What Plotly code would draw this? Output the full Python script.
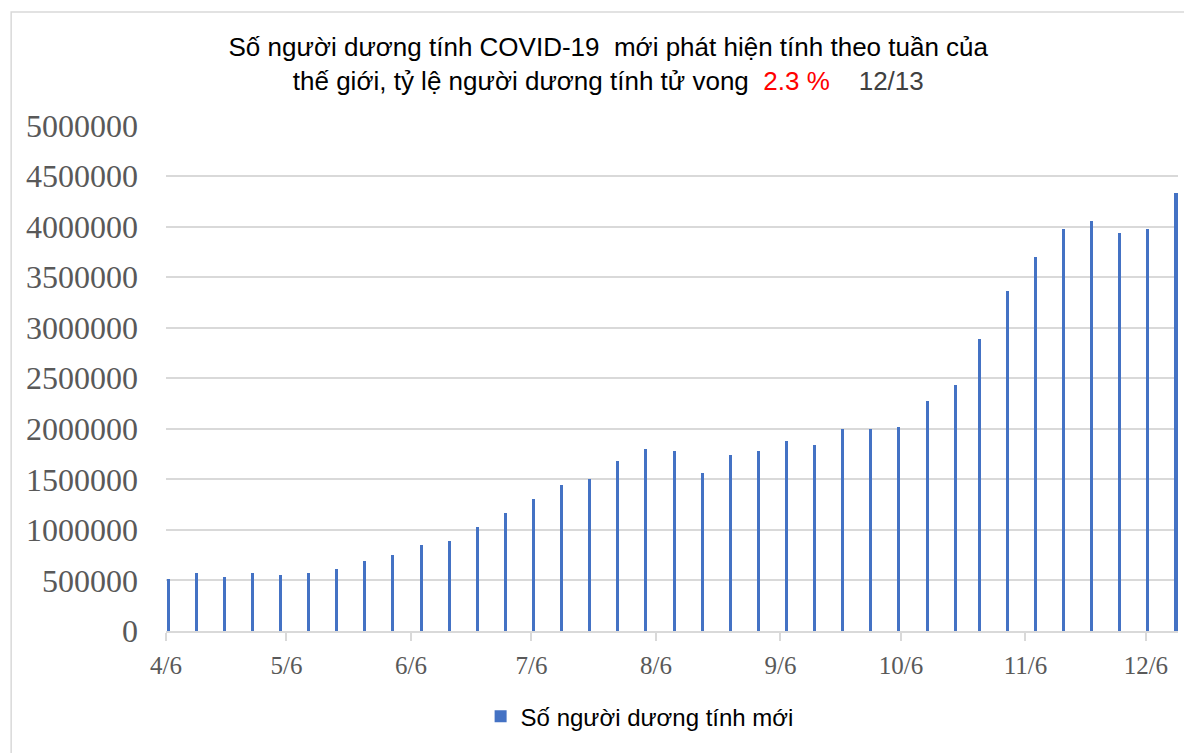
import plotly.graph_objects as go

# ---- data ----
dates = [
    "2020-04-06", "2020-04-13", "2020-04-20", "2020-04-27", "2020-05-04", "2020-05-11",
    "2020-05-18", "2020-05-25", "2020-06-01", "2020-06-08", "2020-06-15", "2020-06-22",
    "2020-06-29", "2020-07-06", "2020-07-13", "2020-07-20", "2020-07-27", "2020-08-03",
    "2020-08-10", "2020-08-17", "2020-08-24", "2020-08-31", "2020-09-07", "2020-09-14",
    "2020-09-21", "2020-09-28", "2020-10-05", "2020-10-12", "2020-10-19", "2020-10-25",
    "2020-11-01", "2020-11-08", "2020-11-15", "2020-11-22", "2020-11-29", "2020-12-06",
    "2020-12-13",
]
new_cases = [
    512000, 570000, 532000, 570000, 553000, 570000,
    611000, 693000, 751000, 847000, 887000, 1025000,
    1163000, 1302000, 1440000, 1500000, 1678000, 1796000,
    1777000, 1559000, 1737000, 1777000, 1875000, 1842000,
    1999000, 2000000, 2020000, 2273000, 2433000, 2891000,
    3363000, 3701000, 3978000, 4060000, 3940000, 3978000,
    4337000,
]
series_name = "Số người dương tính mới"
x_tick_vals = ["2020-04-06", "2020-05-06", "2020-06-06", "2020-07-06", "2020-08-06",
               "2020-09-06", "2020-10-06", "2020-11-06", "2020-12-06"]
x_tick_text = ["4/6", "5/6", "6/6", "7/6", "8/6", "9/6", "10/6", "11/6", "12/6"]
y_tick_vals = [0, 500000, 1000000, 1500000, 2000000, 2500000, 3000000,
               3500000, 4000000, 4500000, 5000000]
y_tick_text = [str(v) for v in y_tick_vals]

title_line1 = "Số người dương tính COVID-19  mới phát hiện tính theo tuần của"
title_line2 = "thế giới, tỷ lệ người dương tính tử vong "
death_rate = "2.3 %"
as_of = "12/13"

DAY_MS = 86400000

fig = go.Figure()
fig.add_trace(go.Bar(
    x=dates,
    y=new_cases,
    name=series_name,
    marker=dict(color="#4472C4", line=dict(width=0)),
    width=0.75 * DAY_MS,
    xperiod=DAY_MS,
    xperiodalignment="middle",
    showlegend=True,
))

title_text = (
    f"{title_line1}<br>{title_line2}"
    f"\u00a0<span style='color:#FF0000'>{death_rate}</span>"
    f"\u00a0\u00a0\u00a0\u00a0<span style='color:#404040'>{as_of}</span>"
)

fig.update_layout(
    width=1184,
    height=745,
    margin=dict(l=158, r=14, t=117, b=122),
    paper_bgcolor="white",
    plot_bgcolor="white",
    title=dict(
        text=title_text,
        x=0.507,
        xanchor="center",
        y=0.935,
        yanchor="top",
        font=dict(family="Liberation Sans, Arial, sans-serif", size=26, color="#000000"),
    ),
    xaxis=dict(
        type="date",
        range=["2020-04-06", "2020-12-14"],
        tickvals=x_tick_vals,
        ticktext=x_tick_text,
        ticks="outside",
        ticklen=8,
        tickwidth=1.5,
        tickcolor="#d9d9d9",
        showline=True,
        linecolor="#d9d9d9",
        linewidth=1.5,
        showgrid=False,
        zeroline=False,
        tickfont=dict(family="Liberation Serif, Times New Roman, serif", size=25, color="#595959"),
        ticklabelstandoff=3,
    ),
    yaxis=dict(
        range=[0, 5005000],
        tickvals=y_tick_vals,
        ticktext=y_tick_text,
        showgrid=True,
        gridcolor="#d9d9d9",
        gridwidth=1.5,
        zeroline=False,
        showline=False,
        ticks="",
        tickfont=dict(family="Liberation Serif, Times New Roman, serif", size=32, color="#595959"),
        ticklabelstandoff=27,
    ),
    legend=dict(
        orientation="h",
        x=0.468,
        xanchor="center",
        y=-0.125,
        yanchor="top",
        font=dict(family="Liberation Sans, Arial, sans-serif", size=24, color="#000000"),
        itemwidth=30,
    ),
    bargap=0,
    shapes=[dict(
        type="rect", xref="paper", yref="paper",
        x0=-0.153, x1=1.012, y0=-0.272, y1=1.2235,
        line=dict(color="#d9d9d9", width=1.5),
        fillcolor="rgba(0,0,0,0)",
        layer="below",
    )],
)

fig.write_html("out.html")
